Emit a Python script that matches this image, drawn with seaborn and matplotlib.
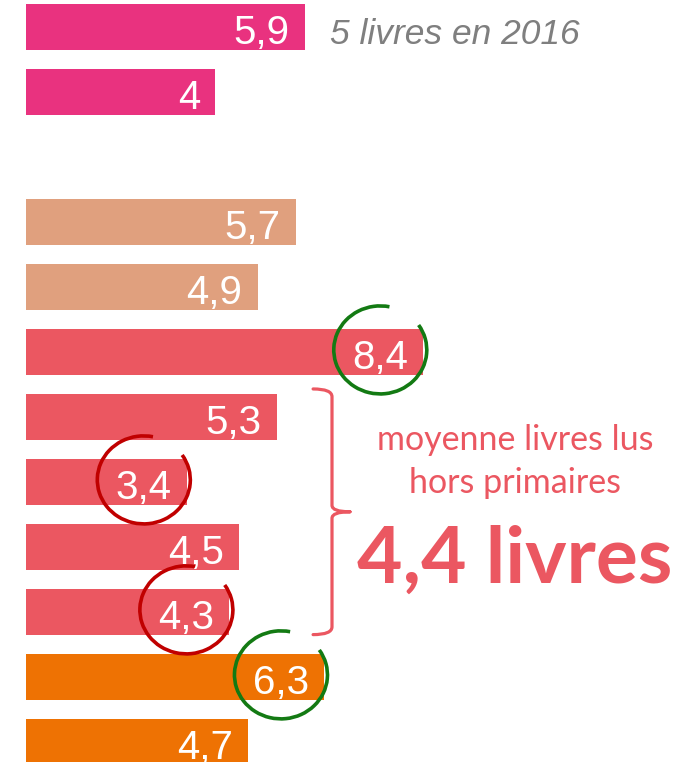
import seaborn as sns
import matplotlib.pyplot as plt
import matplotlib.transforms as mtransforms
from matplotlib.patches import Arc, PathPatch
from matplotlib.path import Path
import pandas as pd

# rows of the chart, "" is the empty slot between the two blocks
categories = ["a", "b", "", "c", "d", "e", "f", "g", "h", "i", "j", "k"]
values = [5.9, 4.0, None, 5.7, 4.9, 8.4, 5.3, 3.4, 4.5, 4.3, 6.3, 4.7]
groups = ["rose", "rose", None, "beige", "beige", "rouge", "rouge", "rouge",
          "rouge", "rouge", "orange", "orange"]

palette = {"rose": "#E9327F", "beige": "#E0A07E",
           "rouge": "#EB5761", "orange": "#EE7203"}

# circled values: (category, colour)
highlights = [("e", "#137A13"), ("g", "#C00000"), ("i", "#C00000"), ("j", "#137A13")]
# rows covered by the bracket
bracket_rows = ["f", "i"]

note_2016 = "5 livres en 2016"
note_lines = ["moyenne livres lus", "hors primaires"]
note_big = "4,4 livres"

sns.set_theme(style="white")
plt.rcParams['font.family'] = ['Liberation Sans', 'DejaVu Sans']

df = pd.DataFrame({"cat": categories, "value": values, "group": groups}).dropna()

fig = plt.figure(figsize=(6.99, 7.62), dpi=100)
ax = fig.add_axes([0, 0, 1, 1])
sns.barplot(data=df, x="value", y="cat", hue="group", order=categories,
            hue_order=list(palette), palette=palette, orient="h", dodge=False,
            width=0.7, errorbar=None, linewidth=0, saturation=1,
            legend=False, ax=ax)

ax.set_xlim(-0.55, 14.23)
ax.set_ylim(11.31, -0.415)
ax.set_axis_off()

# value labels inside the bar ends
ends = {}
for bar in ax.patches:
    w = bar.get_width()
    if w != w or w == 0:
        continue
    yc = bar.get_y() + bar.get_height() / 2
    ends[categories[int(round(yc))]] = (w, yc)
    ax.annotate(f"{w:g}".replace(".", ","), (w, yc), xytext=(-11, -12.2),
                textcoords="offset points", ha="right", va="baseline",
                color="white", fontsize=29)

w0, y0 = ends["a"]
ax.annotate(note_2016, (w0, y0), xytext=(18, -12.2), textcoords="offset points",
            ha="left", va="baseline", color="#7F7F7F", fontsize=25.5,
            style="italic")

# open circles around some values
for cat, col in highlights:
    w, yc = ends[cat]
    tr = fig.dpi_scale_trans + mtransforms.ScaledTranslation(w, yc, ax.transData)
    ax.add_patch(Arc((-0.43, 0.02), 0.93, 0.88, theta1=78, theta2=33,
                     transform=tr, color=col, lw=2.6))

# curly bracket
top = categories.index(bracket_rows[0]) - 0.43
bot = categories.index(bracket_rows[1]) + 0.35
mid = (top + bot) / 2
xb, xl, xt = 6.47, 6.07, 6.85
verts = [(xl, top), (xb, top), (xb, top + 0.12), (xb, mid - 0.1),
         (xb, mid), (xt, mid),
         (xt, mid), (xb, mid), (xb, mid + 0.1), (xb, bot - 0.12),
         (xb, bot), (xl, bot)]
codes = [Path.MOVETO, Path.CURVE3, Path.CURVE3, Path.LINETO,
         Path.CURVE3, Path.CURVE3,
         Path.MOVETO, Path.CURVE3, Path.CURVE3, Path.LINETO,
         Path.CURVE3, Path.CURVE3]
ax.add_patch(PathPatch(Path(verts, codes), fill=False, edgecolor=palette["rouge"],
                       lw=2.3, capstyle="round"))

fig.text(0.737, 0.409, note_lines[0], ha="center", va="baseline",
         color=palette["rouge"], fontsize=24.5, family="Lato")
fig.text(0.737, 0.353, note_lines[1], ha="center", va="baseline",
         color=palette["rouge"], fontsize=24.5, family="Lato")
fig.text(0.737, 0.235, note_big, ha="center", va="baseline",
         color=palette["rouge"], fontsize=56.5, family="Lato", fontweight="bold")

plt.savefig("out.png", dpi=100)
